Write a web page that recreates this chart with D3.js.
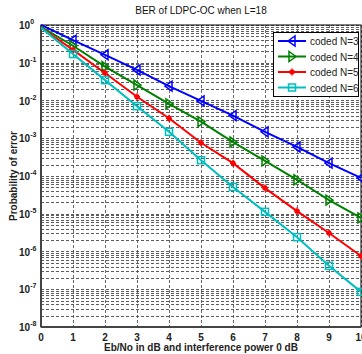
<!DOCTYPE html>
<html>
<head>
<meta charset="utf-8">
<script src="https://cdn.jsdelivr.net/npm/d3@7"></script>
<style>
  body { margin: 0; background: #fff; }
  text { font-family: "Liberation Sans", Arial, sans-serif; }
</style>
</head>
<body>
<svg id="chart"></svg>
<script>
// Eb/No values (dB)
const ebno = [0, 1, 2, 3, 4, 5, 6, 7, 8, 9, 10];
// log10 of BER for each series
const berN3 = [0, -0.40, -0.79, -1.19, -1.62, -2.01, -2.40, -2.83, -3.23, -3.66, -4.05];
const berN4 = [-0.05, -0.55, -1.10, -1.59, -2.09, -2.56, -3.10, -3.60, -4.10, -4.64, -5.11];
const berN5 = [-0.07, -0.66, -1.27, -1.90, -2.47, -3.12, -3.66, -4.32, -4.93, -5.51, -6.12];
const berN6 = [-0.07, -0.77, -1.46, -2.15, -2.83, -3.58, -4.29, -4.95, -5.62, -6.38, -7.07];
const seriesNames = ['coded N=3', 'coded N=4', 'coded N=5', 'coded N=6'];
const xTicks = [0, 1, 2, 3, 4, 5, 6, 7, 8, 9, 10];
const yExps = [0, -1, -2, -3, -4, -5, -6, -7, -8];

const width = 362, height = 354;
const margin = { top: 25, right: 1, bottom: 27, left: 41 };

const svg = d3.select('#chart').attr('width', width).attr('height', height);

const x = d3.scaleLinear().domain([0, 10]).range([margin.left, width - margin.right]);
const y = d3.scaleLog().domain([1e-8, 1]).range([height - margin.bottom, margin.top]);

// grid
const grid = svg.append('g').attr('stroke-width', 0.8)
  .attr('stroke-dasharray', '3,2').attr('fill', 'none');
const minor = [];
for (let e = -8; e < 0; e++) {
  for (let m = 1; m < 10; m++) minor.push(m * Math.pow(10, e));
}
minor.push(1);
grid.selectAll('.hg').data(minor).enter().append('line')
  .attr('x1', x(0)).attr('x2', x(10))
  .attr('y1', d => Math.round(y(d)) + 0.5).attr('y2', d => Math.round(y(d)) + 0.5)
  .attr('stroke', '#333');
grid.selectAll('.vg').data(xTicks).enter().append('line')
  .attr('y1', y(1)).attr('y2', y(1e-8))
  .attr('x1', d => Math.round(x(d)) + 0.5).attr('x2', d => Math.round(x(d)) + 0.5)
  .attr('stroke', '#444');

// axes frame
svg.append('rect')
  .attr('x', x(0)).attr('y', y(1))
  .attr('width', x(10) - x(0)).attr('height', y(1e-8) - y(1))
  .attr('fill', 'none').attr('stroke', '#000').attr('stroke-width', 1);
svg.append('line').attr('x1', x(0)).attr('x2', x(0)).attr('y1', y(1)).attr('y2', y(1e-8))
  .attr('stroke', '#444').attr('stroke-width', 2);
svg.append('line').attr('x1', x(0)).attr('x2', x(10)).attr('y1', y(1e-8)).attr('y2', y(1e-8))
  .attr('stroke', '#444').attr('stroke-width', 2);

// x tick labels
svg.append('g').selectAll('text').data(xTicks).enter().append('text')
  .attr('x', d => x(d)).attr('y', 341)
  .attr('text-anchor', 'middle').attr('font-size', 10).attr('font-weight', 'bold')
  .attr('fill', '#222')
  .text(d => d);

// y tick labels 10^e
const yl = svg.append('g').selectAll('text').data(yExps).enter().append('text')
  .attr('x', 19).attr('y', d => y(Math.pow(10, d)) + 4)
  .attr('font-size', 10).attr('font-weight', 'bold').attr('fill', '#222');
yl.append('tspan').text('10');
yl.append('tspan').attr('dy', -5).attr('font-size', 7).text(d => d);

// titles
svg.append('text').attr('x', 201).attr('y', 14).attr('text-anchor', 'middle')
  .attr('font-size', 10).attr('fill', '#111').text('BER of LDPC-OC when L=18');
svg.append('text').attr('x', 201).attr('y', 351).attr('text-anchor', 'middle')
  .attr('font-size', 10).attr('font-weight', 'bold').attr('fill', '#222')
  .text('Eb/No in dB  and interference power 0 dB');
svg.append('text').attr('transform', 'translate(17,176) rotate(-90)')
  .attr('text-anchor', 'middle').attr('font-size', 10).attr('font-weight', 'bold')
  .attr('fill', '#222').text('Probability  of error');

// series
const colors = ['#0000ff', '#008000', '#ff0000', '#00bfbf'];
const data = [berN3, berN4, berN5, berN6];
const markerKinds = ['tl', 'tr', 'star', 'sq'];

svg.append('defs').append('clipPath').attr('id', 'clip').append('rect')
  .attr('x', x(0)).attr('y', y(1) - 1).attr('width', x(10) - x(0) + 2).attr('height', y(1e-8) - y(1) + 2);

const line = d3.line().x((d, i) => x(ebno[i])).y(d => y(Math.pow(10, d)));

function drawMarker(g, kind, cx, cy, color) {
  if (kind === 'tl') {
    g.append('path').attr('d', `M${cx - 4},${cy}L${cx + 3},${cy - 5}L${cx + 3},${cy + 5}Z`)
      .attr('fill', 'none').attr('stroke', color).attr('stroke-width', 1.5);
  } else if (kind === 'tr') {
    g.append('path').attr('d', `M${cx + 4},${cy}L${cx - 3},${cy - 5}L${cx - 3},${cy + 5}Z`)
      .attr('fill', 'none').attr('stroke', color).attr('stroke-width', 1.5);
  } else if (kind === 'star') {
    g.append('path').attr('d', `M${cx - 3},${cy}L${cx + 3},${cy}M${cx},${cy - 3.5}L${cx},${cy + 3.5}M${cx - 2},${cy - 2}L${cx + 2},${cy + 2}M${cx - 2},${cy + 2}L${cx + 2},${cy - 2}`)
      .attr('stroke', color).attr('stroke-width', 1.5);
  } else {
    g.append('rect').attr('x', cx - 3.5).attr('y', cy - 3.5).attr('width', 7).attr('height', 7)
      .attr('fill', 'none').attr('stroke', color).attr('stroke-width', 1.5);
  }
}

const plot = svg.append('g').attr('clip-path', 'url(#clip)');
data.forEach((vals, k) => {
  plot.append('path').datum(vals).attr('d', line)
    .attr('fill', 'none').attr('stroke', colors[k]).attr('stroke-width', 2);
  vals.forEach((v, i) => {
    if (i === 0) return;
    drawMarker(plot, markerKinds[k], x(ebno[i]), y(Math.pow(10, v)), colors[k]);
  });
});

// legend
const lg = svg.append('g');
lg.append('rect').attr('x', 273.5).attr('y', 32.5).attr('width', 85).attr('height', 64)
  .attr('fill', '#fff').attr('stroke', '#000').attr('stroke-width', 1);
seriesNames.forEach((name, k) => {
  const ly = 41 + k * 15.5;
  lg.append('line').attr('x1', 278).attr('x2', 306).attr('y1', ly).attr('y2', ly)
    .attr('stroke', colors[k]).attr('stroke-width', 2);
  drawMarker(lg, markerKinds[k], 292, ly, colors[k]);
  lg.append('text').attr('x', 310).attr('y', ly + 4).attr('font-size', 10)
    .attr('fill', '#222').text(name);
});
</script>
</body>
</html>
